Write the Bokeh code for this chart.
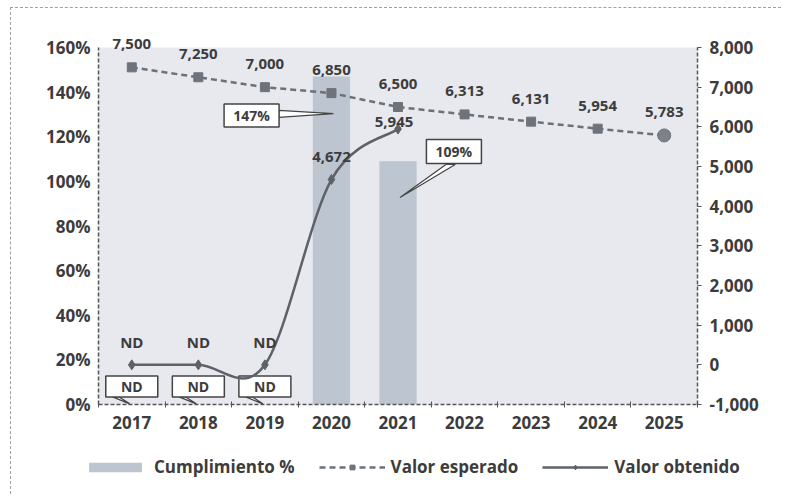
from bokeh.plotting import figure
from bokeh.models import (Range1d, LinearAxis, FixedTicker, NumeralTickFormatter,
                          PrintfTickFormatter, Legend, LegendItem, BoxAnnotation)
from bokeh.layouts import column
from bokeh.core.properties import value
from bokeh.embed import file_html
from bokeh.resources import INLINE

# ---------------- data ----------------
years = ["2017", "2018", "2019", "2020", "2021", "2022", "2023", "2024", "2025"]
cumplimiento = [0, 0, 0, 147, 109]              # %, ND shown as 0
cumplimiento_labels = ["ND", "ND", "ND", "147%", "109%"]
valor_esperado = [7500, 7250, 7000, 6850, 6500, 6313, 6131, 5954, 5783]
valor_obtenido = [0, 0, 0, 4672, 5945]          # ND plotted at 0
obtenido_labels = ["ND", "ND", "ND", "4,672", "5,945"]
left_ticks = [0, 20, 40, 60, 80, 100, 120, 140, 160]
right_ticks = [-1000, 0, 1000, 2000, 3000, 4000, 5000, 6000, 7000, 8000]

# ---------------- style ----------------
FONT = "Open Sans"
WEIGHT = "bold"
TXT = "#3c3c3c"
AX = "#555555"
BAR = "#bcc5d0"
ESP = "#6b7079"
OBT = "#5d6168"
idx = list(range(len(years)))

p = figure(width=770, height=436, output_backend="svg", toolbar_location=None, title=None,
           x_range=Range1d(-0.5, 8.5), y_range=Range1d(0, 167.62),
           min_border_left=87, min_border_right=84, min_border_top=22, min_border_bottom=40)
p.frame_align = False
p.extra_y_ranges = {"right": Range1d(-1000, 8428.6)}
p.outline_line_color = None
p.background_fill_color = "white"
p.border_fill_color = "white"
p.xgrid.visible = False
p.ygrid.visible = False

p.add_layout(BoxAnnotation(left=-0.5, right=8.5, bottom=0, top=left_ticks[-1],
                           fill_color="#e7e9ee", fill_alpha=1, line_color=None, level="underlay"))

# axes
xa = p.xaxis[0]
xa.ticker = FixedTicker(ticks=idx, minor_ticks=[i - 0.5 for i in range(len(years) + 1)])
xa.major_label_overrides = {i: y for i, y in enumerate(years)}
xa.major_tick_in = 0
xa.major_tick_out = 0
xa.minor_tick_in = 3
xa.minor_tick_out = 3
xa.minor_tick_line_color = AX

ya = p.yaxis[0]
ya.bounds = (0, 160)
ya.ticker = FixedTicker(ticks=left_ticks)
ya.formatter = PrintfTickFormatter(format="%d%%")
ya.major_tick_in = 0
ya.major_tick_out = 0
ya.minor_tick_out = 0

ra = LinearAxis(y_range_name="right", bounds=(-1000, 8000),
                ticker=FixedTicker(ticks=right_ticks),
                formatter=NumeralTickFormatter(format="0,0"))
ra.major_tick_in = 0
ra.major_tick_out = 4
ra.minor_tick_out = 0
p.add_layout(ra, "right")

for a in (xa, ya, ra):
    a.axis_line_color = AX
    a.axis_line_width = 1.5
    a.axis_line_dash = "4 2"
    a.major_tick_line_color = AX
    a.major_label_text_font = FONT
    a.major_label_text_font_style = WEIGHT
    a.major_label_text_font_size = "17px"
    a.major_label_text_color = TXT
    a.major_label_standoff = 8

# bars
bars = p.vbar(x=idx[:len(cumplimiento)], top=cumplimiento, width=0.56, bottom=0,
              fill_color=BAR, fill_alpha=1, line_color=None)

# callouts for Cumplimiento (decoration positions)
box_dx = [0.0, 0.0, 0.0, -1.2, 0.84]
box_y = [8.1, 8.1, 8.1, 129.5, 113.4]
box_w = [52, 52, 52, 55, 55]
box_h = [21, 21, 21, 23, 24]
tip_dx = [-0.03, -0.03, -0.03, 0.03, 0.03]
tip_y = [0.3, 0.3, 0.3, 130.4, 92.8]
base_a = [(-0.29, 3.4), (-0.29, 3.4), (-0.29, 3.4), (-0.79, 131.8), (0.72, 107.6)]
base_b = [(-0.19, 3.4), (-0.19, 3.4), (-0.19, 3.4), (-0.79, 128.7), (0.86, 107.6)]
xs, ys = [], []
for i in range(len(cumplimiento)):
    xs.append([i + base_a[i][0], i + tip_dx[i], i + base_b[i][0]])
    ys.append([base_a[i][1], tip_y[i], base_b[i][1]])
p.patches(xs, ys, fill_color="white", line_color="#444444", line_width=1.2)
bx = [i + box_dx[i] for i in range(len(cumplimiento))]
p.rect(x=bx, y=box_y, width=box_w, height=box_h, width_units="screen", height_units="screen",
       fill_color="white", line_color="#444444", line_width=1.5)
p.text(x=bx, y=box_y, text=cumplimiento_labels, text_align="center", text_baseline="middle",
       text_font=value(FONT), text_font_style=WEIGHT, text_font_size="14px", text_color=TXT)

# Valor esperado
esp_line = p.line(idx, valor_esperado, y_range_name="right", line_color=ESP,
                  line_width=2.5, line_dash="6 4")
p.scatter(idx[:-1], valor_esperado[:-1], y_range_name="right", marker="square",
          size=9, fill_color="#6e737b", line_color="#6e737b")
p.scatter(idx[-1:], valor_esperado[-1:], y_range_name="right", marker="circle",
          size=13, fill_color="#7d8189", line_color="#6e737b")
p.text(x=idx, y=valor_esperado, y_range_name="right", text=[f"{v:,}" for v in valor_esperado],
       y_offset=-23, text_align="center", text_baseline="middle",
       text_font=value(FONT), text_font_style=WEIGHT, text_font_size="15px", text_color=TXT)

# Valor obtenido - smoothed (Excel-like) bezier segments through the points
n = len(valor_obtenido)
P = [(float(i), float(v)) for i, v in enumerate(valor_obtenido)]
bx0, by0, bx1, by1, cx0, cy0, cx1, cy1 = [], [], [], [], [], [], [], []
for i in range(n - 1):
    p0 = P[i - 1] if i > 0 else P[i]
    p1, p2 = P[i], P[i + 1]
    p3 = P[i + 2] if i + 2 < n else P[i + 1]
    bx0.append(p1[0]); by0.append(p1[1]); bx1.append(p2[0]); by1.append(p2[1])
    cx0.append(p1[0] + (p2[0] - p0[0]) / 6); cy0.append(p1[1] + (p2[1] - p0[1]) / 6)
    cx1.append(p2[0] - (p3[0] - p1[0]) / 6); cy1.append(p2[1] - (p3[1] - p1[1]) / 6)
p.bezier(x0=bx0, y0=by0, x1=bx1, y1=by1, cx0=cx0, cy0=cy0, cx1=cx1, cy1=cy1,
         y_range_name="right", line_color=OBT, line_width=2.5)
p.scatter(idx[:n], valor_obtenido, y_range_name="right", marker="diamond",
          size=10, fill_color=OBT, line_color=OBT)
obt_dx = [0, 0, 0, 0, -4]
obt_dy = [-23, -23, -23, -23, -7]
p.text(x=idx[:n], y=valor_obtenido, y_range_name="right", text=obtenido_labels,
       x_offset=obt_dx, y_offset=obt_dy, text_align="center", text_baseline="middle",
       text_font=value(FONT), text_font_style=WEIGHT, text_font_size="15px", text_color=TXT)

# ---------------- legend strip (proxy glyphs lie outside its visible range) ----------------
lg = figure(width=770, height=50, output_backend="svg", toolbar_location=None, title=None,
            x_range=Range1d(0, 1), y_range=Range1d(0, 1),
            x_axis_location=None, y_axis_location=None, min_border=0)
lg.frame_align = False
lg.outline_line_color = None
lg.xgrid.visible = False
lg.ygrid.visible = False
off = [-5.0]
lg_bar = lg.vbar(x=off, top=off, width=0.5, fill_color=BAR, line_color=None)
lg_esp_l = lg.line(off, off, line_color=ESP, line_width=2.5, line_dash="6 4")
lg_esp_m = lg.scatter(off, off, marker="square", size=9, fill_color="#6e737b", line_color="#6e737b")
lg_obt_l = lg.line(off, off, line_color=OBT, line_width=2.5)
lg_obt_m = lg.scatter(off, off, marker="diamond", size=9, fill_color=OBT, line_color=OBT)
legend = Legend(items=[
    LegendItem(label="Cumplimiento %", renderers=[lg_bar]),
    LegendItem(label="Valor esperado", renderers=[lg_esp_l, lg_esp_m]),
    LegendItem(label="Valor obtenido", renderers=[lg_obt_l, lg_obt_m]),
], orientation="horizontal", location=(71, 16))
legend.label_text_font = FONT
legend.label_text_font_style = WEIGHT
legend.label_text_font_size = "17px"
legend.label_text_color = TXT
legend.glyph_width = 66
legend.glyph_height = 12
legend.spacing = 24
legend.label_standoff = 6
legend.border_line_color = None
legend.background_fill_alpha = 0
legend.padding = 0
legend.margin = 0
lg.add_layout(legend, "center")

layout = column(p, lg, spacing=0)
layout.styles = {"border-top": "1px dashed #a0a0a0", "border-left": "1px dashed #a0a0a0",
                 "margin-left": "10px", "margin-top": "7px"}

open("out.html", "w").write(file_html(layout, INLINE))
